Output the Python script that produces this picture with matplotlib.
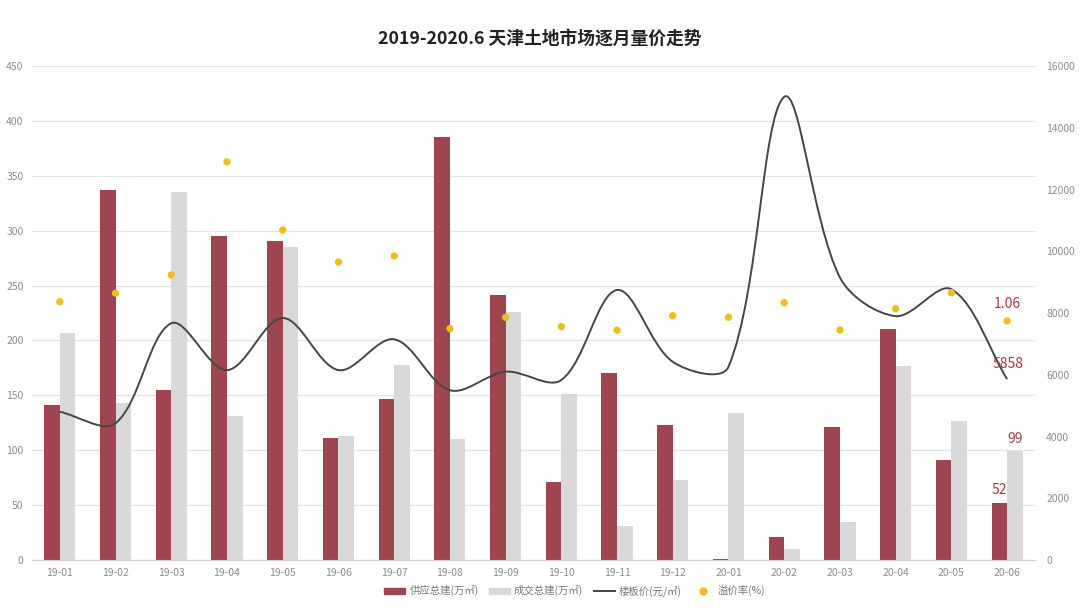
import numpy as np
import matplotlib
matplotlib.use("Agg")
import matplotlib.pyplot as plt
from matplotlib.path import Path
from matplotlib.patches import PathPatch, Patch
from matplotlib.lines import Line2D

plt.rcParams['font.family'] = ['Noto Sans CJK SC', 'DejaVu Sans']

# Dados
meses = ["19-01", "19-02", "19-03", "19-04", "19-05", "19-06", "19-07", "19-08", "19-09",
         "19-10", "19-11", "19-12", "20-01", "20-02", "20-03", "20-04", "20-05", "20-06"]
oferta = [141, 337, 155, 295, 291, 111, 147, 385, 241, 71, 170, 123, 1, 21, 121, 210, 91, 52]
negocio = [207, 143, 335, 131, 285, 113, 178, 110, 226, 151, 31, 73, 134, 10, 35, 177, 127, 99]
preco = [4800, 4430, 7670, 6150, 7840, 6150, 7150, 5500, 6100, 5830, 8745, 6420,
         6260, 15000, 9150, 7900, 8770, 5858]
premio = [1.145, 1.183, 1.264, 1.765, 1.463, 1.321, 1.348, 1.026, 1.076, 1.035,
          1.019, 1.083, 1.076, 1.141, 1.020, 1.114, 1.185, 1.06]

cor_verm = "#9e4650"
cor_cinza = "#d9d9d9"
cor_linha = "#454545"
cor_ponto = "#ebbf1e"
cor_txt = "#8c8c8c"
cor_rot = "#a63a44"

fig = plt.figure(figsize=(10.8, 6.08), dpi=100)
ax = fig.add_axes([0.0296, 0.0789, 0.9287, 0.8125])
x = np.arange(len(meses))
w = 0.28

ax.bar(x - w/2, oferta, w, color=cor_verm, zorder=2)
ax.bar(x + w/2, negocio, w, color=cor_cinza, zorder=2)
ax.set_xlim(-0.5, len(meses) - 0.5)
ax.set_ylim(0, 450)
ax.set_yticks(range(0, 451, 50))
ax.yaxis.grid(True, color="#e3e3e3", lw=0.9)
ax.set_axisbelow(True)
ax.set_xticks(x)
ax.set_xticklabels(meses)
ax.tick_params(axis="both", length=0, labelsize=7.5, labelcolor=cor_txt, pad=6)
ax.tick_params(axis="y", pad=6)
for s in ["top", "right", "left"]:
    ax.spines[s].set_visible(False)
ax.spines["bottom"].set_color("#d0d0d0")

# eixo direito - preco (linha suavizada tipo Excel)
ax2 = ax.twinx()
ax2.set_ylim(0, 16000)
ax2.set_yticks(range(0, 16001, 2000))
ax2.tick_params(axis="y", length=0, labelsize=7.5, labelcolor=cor_txt, pad=8)
for s in ax2.spines.values():
    s.set_visible(False)

pts = np.column_stack([x, preco]).astype(float)
esc = np.array([55.7, 494 / 16000])  # px por unidade, para pesar as distancias
n = len(pts)
dist = [np.hypot(*((pts[i + 1] - pts[i]) * esc)) for i in range(n - 1)]
c_out, c_in = [], []
for i in range(n):
    p0 = pts[i - 1] if i > 0 else pts[i]
    p2 = pts[i + 1] if i < n - 1 else pts[i]
    tg = p2 - p0
    da = dist[i - 1] if i > 0 else 0.0
    db = dist[i] if i < n - 1 else 0.0
    tot = da + db if da + db > 0 else 1.0
    c_out.append(pts[i] + tg * db / tot / 3)
    c_in.append(pts[i] - tg * da / tot / 3)
verts = [pts[0]]
codes = [Path.MOVETO]
for i in range(n - 1):
    verts += [c_out[i], c_in[i + 1], pts[i + 1]]
    codes += [Path.CURVE4] * 3
ax2.add_patch(PathPatch(Path(verts, codes), fill=False, ec=cor_linha, lw=1.4, zorder=3))

# eixo oculto - premio
ax3 = ax.twinx()
ax3.set_ylim(0, 2.19)
ax3.axis("off")
ax3.scatter(x, premio, s=28, color=cor_ponto, zorder=4, edgecolors="none")

# rotulos finais
ax3.annotate("1.06", (x[-1], premio[-1]), xytext=(0, 7), textcoords="offset points",
             ha="center", va="bottom", fontsize=10, color=cor_rot)
ax2.annotate(f"{preco[-1]}", (x[-1], preco[-1]), xytext=(12, 6), textcoords="offset points",
             ha="right", va="bottom", fontsize=10, color=cor_rot)
ax.annotate(f"{oferta[-1]}", (x[-1] - w/2, oferta[-1]), xytext=(0, 4), textcoords="offset points",
            ha="center", va="bottom", fontsize=10, color=cor_rot)
ax.annotate(f"{negocio[-1]}", (x[-1] + w/2, negocio[-1]), xytext=(0, 4), textcoords="offset points",
            ha="center", va="bottom", fontsize=10, color=cor_rot)

fig.text(0.5, 0.937, "2019-2020.6 天津土地市场逐月量价走势", ha="center", va="center",
         fontsize=12.8, fontweight="bold", color="#222222")

handles = [Patch(color=cor_verm), Patch(color=cor_cinza),
           Line2D([], [], color=cor_linha, lw=1.4),
           Line2D([], [], ls="none", marker="o", ms=5, color=cor_ponto)]
labels = ["供应总建(万㎡)", "成交总建(万㎡)", "楼板价(元/㎡)", "溢价率(%)"]
leg = fig.legend(handles, labels, loc="center", bbox_to_anchor=(0.532, 0.028), ncol=4,
                 frameon=False, fontsize=7.5, handlelength=2.0, handleheight=0.5,
                 columnspacing=1.0, handletextpad=0.4)
for t in leg.get_texts():
    t.set_color("#777777")

fig.savefig("out.png", dpi=100)
